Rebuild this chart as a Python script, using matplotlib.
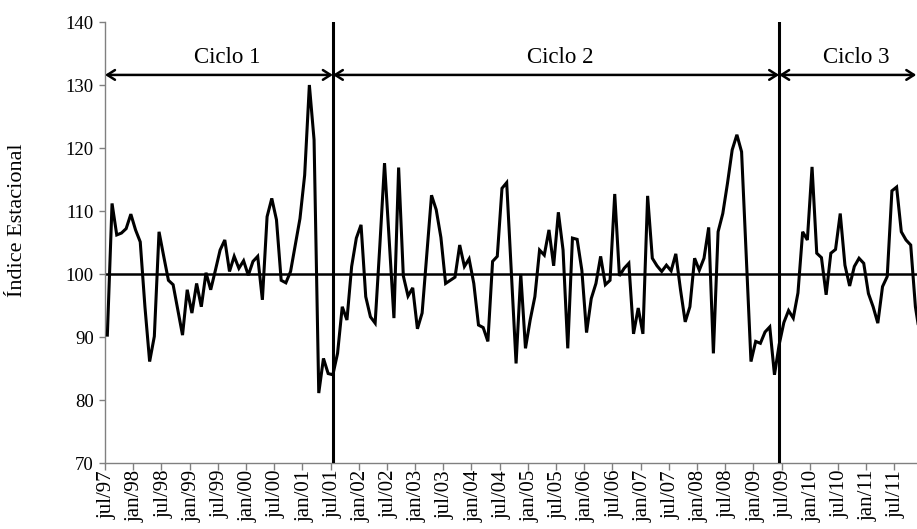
import numpy as np
import matplotlib
matplotlib.use("Agg")
import matplotlib.pyplot as plt

plt.rcParams['font.family'] = ['Liberation Serif', 'DejaVu Serif']

# monthly seasonal index, jul/97 .. dec/11
ciclo1 = [90.3, 111.2, 106.2, 106.5, 107.2, 109.5, 107.0, 105.1, 94.8, 86.1,
          90.1, 106.7, 102.8, 99.0, 98.3, 94.3, 90.3, 97.5, 93.8, 98.5,
          94.8, 100.2, 97.5, 100.6, 103.8, 105.4, 100.4, 102.8, 100.9, 102.1,
          99.8, 102.0, 102.8, 95.9, 109.1, 112.0, 108.6, 99.0, 98.6, 100.4,
          104.6, 108.8, 115.7, 130.0, 121.3, 81.1, 86.6, 84.2, 84.0]
ciclo2 = [87.4, 94.8, 92.7, 101.2, 105.7, 107.8, 96.4, 93.2, 92.2, 104.5,
          117.6, 105.3, 93.0, 116.9, 99.7, 96.5, 97.8, 91.3, 93.8, 103.2,
          112.5, 110.2, 105.8, 98.5, 99.0, 99.5, 104.6, 101.2, 102.4, 98.5,
          91.9, 91.5, 89.3, 102.0, 102.8, 113.6, 114.5, 100.2, 85.8, 100.0,
          88.2, 92.7, 96.4, 103.8, 103.0, 107.0, 101.3, 109.8, 103.8, 88.2,
          105.7, 105.5, 100.6, 90.7, 96.1, 98.5, 102.8, 98.3, 99.0, 112.7,
          99.7, 100.9, 101.7, 90.5, 94.6, 90.5, 112.4, 102.5, 101.3, 100.4,
          101.4, 100.5, 103.2, 97.5, 92.4, 94.8, 102.5, 100.6, 102.5, 107.4,
          87.4, 106.7, 109.6, 114.4, 119.7, 122.1, 119.4, 102.7, 86.1, 89.3,
          89.0, 90.8, 91.6, 84.0]
ciclo3 = [88.8, 92.3, 94.2, 93.0, 97.0, 106.7, 105.4, 117.0, 103.3, 102.6,
          96.7, 103.3, 103.9, 109.6, 101.4, 98.1, 101.2, 102.5, 101.7, 96.9,
          94.8, 92.2, 98.0, 99.6, 113.2, 113.8, 106.7, 105.4, 104.6, 94.8,
          90.0]

tick_labels = ['jul/97', 'jan/98', 'jul/98', 'jan/99', 'jul/99', 'jan/00', 'jul/00',
               'jan/01', 'jul/01', 'jan/02', 'jul/02', 'jan/03', 'jul/03', 'jan/04',
               'jul/04', 'jan/05', 'jul/05', 'jan/06', 'jul/06', 'jan/07', 'jul/07',
               'jan/08', 'jul/08', 'jan/09', 'jul/09', 'jan/10', 'jul/10', 'jan/11',
               'jul/11']
ciclo_nomes = ['Ciclo 1', 'Ciclo 2', 'Ciclo 3']

serie = np.array(ciclo1 + ciclo2 + ciclo3)
meses = np.arange(len(serie))
corte1 = len(ciclo1) - 1          # jul/01
corte2 = len(ciclo1) + len(ciclo2)  # jun/09

W, H = 917, 529
fig = plt.figure(figsize=(W / 100, H / 100), dpi=100)
ax = fig.add_axes([105 / W, 66 / H, (W - 105) / W, 441 / H])

ax.plot(meses, serie, color='black', lw=2.2, solid_joinstyle='miter', zorder=3)
ax.axhline(100, color='black', lw=1.8, zorder=2)
for c in (corte1, corte2):
    ax.axvline(c, color='black', lw=2.2, zorder=4)

xmax = -0.5 + (W - 105) / 4.698
ax.set_xlim(-0.5, xmax)
ax.set_ylim(70, 140)

# arrows marking each cycle
y_seta = 131.6
limites = [(-0.5, corte1), (corte1, corte2), (corte2, xmax - 0.15)]
for (a, b), nome in zip(limites, ciclo_nomes):
    ax.annotate('', xy=(a, y_seta), xytext=(b, y_seta),
                arrowprops=dict(arrowstyle='<->,head_length=0.55,head_width=0.35',
                                color='black', lw=1.8, shrinkA=0, shrinkB=0),
                annotation_clip=False)
ax.text(25.5, 134.3, ciclo_nomes[0], ha='center', va='center', fontsize=16.5)
ax.text(96.5, 134.3, ciclo_nomes[1], ha='center', va='center', fontsize=16.5)
ax.text(159.5, 134.3, ciclo_nomes[2], ha='center', va='center', fontsize=16.5)

# category axis: labels at every 6th month, tick marks between categories
ax.set_xticks(np.arange(0, len(tick_labels) * 6, 6))
ax.set_xticklabels(tick_labels, rotation=90, fontsize=15)
ax.set_xticks(np.arange(-0.5, xmax, 6), minor=True)
ax.tick_params(axis='x', which='major', length=0, pad=5)
ax.tick_params(axis='x', which='minor', length=5, width=1, color='#808080', direction='out')

ax.set_yticks(np.arange(70, 141, 10))
ax.tick_params(axis='y', labelsize=13.5, length=4, width=1, color='#808080', pad=4)

for s in ('top', 'right'):
    ax.spines[s].set_visible(False)
for s in ('left', 'bottom'):
    ax.spines[s].set_color('#808080')
    ax.spines[s].set_linewidth(1)

fig.text(18 / W, 1 - 220 / H, 'Índice Estacional', rotation=90,
         ha='center', va='center', fontsize=16)

fig.savefig('out.png', dpi=100)
